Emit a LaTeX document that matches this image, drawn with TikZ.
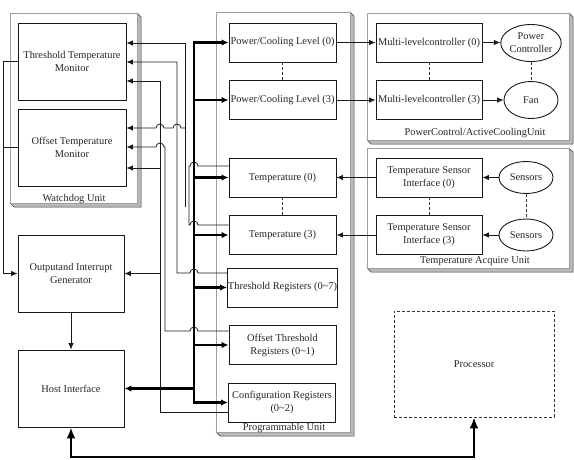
\documentclass[tikz,border=0pt]{standalone}
\usepackage{fontspec}
\setmainfont{Liberation Serif}
\usetikzlibrary{arrows.meta,shapes.geometric}
\newcommand\unitframe[4]{%
  \filldraw[fill=gray!55, draw=gray!50!black, line width=0.5pt]
    (#3,#2) -- ++(4,4) -- (#3+4,#4+4) -- (#1+4,#4+4) -- (#1,#4) -- (#3,#4) -- cycle;
  \draw[gray!75, line width=0.8pt, fill=white] (#1,#2) rectangle (#3,#4);}
\begin{document}
\begin{tikzpicture}[x=1pt,y=-1pt,
  txt/.style={font=\fontsize{10.4}{13}\selectfont, text=black!85},
  box/.style={txt, draw=black!90, line width=0.9pt, fill=white, align=center, inner sep=0.5pt},
  ell/.style={txt, draw=black!90, ellipse, line width=0.9pt, fill=white, align=center, inner sep=0pt, minimum width=54pt, minimum height=37pt},
  wire/.style={line width=0.8pt, black!90},
  ar/.style={wire, -{Latex[length=6.5pt,width=5.5pt]}},
  bus/.style={line width=2.6pt, black},
  busar/.style={bus, -{Latex[length=7pt,width=6.5pt]}},
  dashline/.style={line width=0.8pt, black!80, dash pattern=on 3pt off 2pt},
  bigtip/.style={{Latex[length=11pt,width=9pt]}-{Latex[length=11pt,width=9pt]}}
]
\useasboundingbox (0,0) rectangle (574,459);

% unit frames
\unitframe{10}{13}{137}{203}
\unitframe{216}{12}{350}{432}
\unitframe{367}{13}{569}{140}
\unitframe{367}{148}{569}{268}

\node[txt] (wdl) at (74,199) {Watchdog Unit};
\node[txt] (pul) at (284,428) {Programmable Unit};
\node[txt] (pcl) at (475,133) {PowerControl/ActiveCoolingUnit};
\node[txt] (tal) at (475,261) {Temperature Acquire Unit};

% watchdog and left column
\node[box, minimum width=108pt, minimum height=77pt] (ttm) at (72,61.5) {Threshold Temperature\\Monitor};
\node[box, minimum width=108pt, minimum height=77pt] (otm) at (72,147.5) {Offset Temperature\\Monitor};
\node[box, minimum width=106pt, minimum height=77pt] (oig) at (71,273.5) {Outputand Interrupt\\Generator};
\node[box, minimum width=106pt, minimum height=77pt] (hi) at (71,388.5) {Host Interface};

% programmable unit
\node[box, minimum width=107pt, minimum height=39pt] (pcl0) at (282.5,42.5) {Power/Cooling Level (0)};
\node[box, minimum width=107pt, minimum height=39pt] (pcl3) at (282.5,100) {Power/Cooling Level (3)};
\node[box, minimum width=107pt, minimum height=39pt] (t0) at (282.5,177.5) {Temperature (0)};
\node[box, minimum width=107pt, minimum height=39pt] (t3) at (282.5,235) {Temperature (3)};
\node[box, minimum width=107pt, minimum height=39pt] (thr) at (282.5,287.5) {Threshold Registers (0\textasciitilde7)};
\node[box, minimum width=107pt, minimum height=39pt] (otr) at (282.5,345) {Offset Threshold\\Registers (0\textasciitilde1)};
\node[box, minimum width=107pt, minimum height=39pt] (cfg) at (282,402.5) {Configuration Registers\\(0\textasciitilde2)};

% power control unit
\node[box, minimum width=106pt, minimum height=39pt] (mlc0) at (429,42.5) {Multi-levelcontroller (0)};
\node[box, minimum width=106pt, minimum height=39pt] (mlc3) at (429,100) {Multi-levelcontroller (3)};
\node[ell] (pc) at (531,43) {Power\\Controller};
\node[ell] (fan) at (531,100) {Fan};

% temperature acquire unit
\node[box, minimum width=106pt, minimum height=39pt] (tsi0) at (429,177.5) {Temperature Sensor\\Interface (0)};
\node[box, minimum width=106pt, minimum height=39pt] (tsi3) at (429,235) {Temperature Sensor\\Interface (3)};
\node[ell, minimum height=32pt] (s0) at (526,177.5) {Sensors};
\node[ell, minimum height=32pt] (s3) at (526,235) {Sensors};

% processor
\node[txt, draw=black!80, dash pattern=on 3pt off 2pt, line width=0.8pt, minimum width=160pt, minimum height=106pt] (proc) at (474,364) {Processor};

% dashed links
\draw[dashline] (pcl0) -- (pcl3);
\draw[dashline] (t0) -- (t3);
\draw[dashline] (mlc0) -- (mlc3);
\draw[dashline] (pc) -- (fan);
\draw[dashline] (tsi0) -- (tsi3);
\draw[dashline] (s0) -- (s3);

% right side arrows
\draw[ar] (pcl0) -- (mlc0);
\draw[ar] (pcl3) -- (mlc3);
\draw[ar] (mlc0.east) -- (mlc0.east -| pc.west);
\draw[ar] (mlc3) -- (fan);
\draw[ar] (s0) -- (tsi0);
\draw[ar] (s3) -- (tsi3);
\draw[ar] (tsi0) -- (t0);
\draw[ar] (tsi3) -- (t3);

% bus
\coordinate (bt) at (194,42.5);
\coordinate (bb) at (194,402.5);
\draw[bus, {Latex[length=7pt,width=6.5pt]}-{Latex[length=7pt,width=6.5pt]}] (pcl0.west) -- (bt) -- (bb) -- (cfg.west);
\draw[busar] (pcl3.west -| bt) -- (pcl3.west);
\draw[busar] (t0.west -| bt) -- (t0.west);
\draw[busar] (t3.west -| bt) -- (t3.west);
\draw[busar] (thr.west -| bt) -- (thr.west);
\draw[busar] (otr.west -| bt) -- (otr.west);
\draw[busar] (hi.east -| bt) -- (hi.east);

% host - processor
\coordinate (lowy) at (0,457);
\draw[bus, bigtip] (hi.south) -- (hi.south |- lowy) -| (proc.south);

% left loop to output generator
\coordinate (lx) at (3,0);
\draw[ar] (ttm.west) -- (ttm.west -| lx) -- (oig.west -| lx) -- (oig.west);
\draw[wire] (otm.west) -- (otm.west -| lx);
\draw[ar] (oig) -- (hi);

% temperature net
\draw[ar] (185,207) -- (185,43) -- (ttm.east |- 0,43);
\draw[ar] (185,128) -- (181,128) arc[start angle=0,end angle=-180,radius=4]
  -- (164,128) arc[start angle=0,end angle=-180,radius=4] -- (otm.east |- 0,128);
\draw[wire] (t0.west |- 0,166) -- (198,166) arc[start angle=0,end angle=-180,radius=4]
  -- (189,166) -- (189,225) -- (190,225) arc[start angle=180,end angle=360,radius=4]
  -- (t3.west |- 0,225);

% threshold registers net
\draw[ar] (thr.west |- 0,273) -- (198,273) arc[start angle=0,end angle=-180,radius=4]
  -- (177,273) -- (177,62) -- (ttm.east |- 0,62);

% offset registers net
\draw[ar] (otr.west |- 0,331) -- (198,331) arc[start angle=0,end angle=-180,radius=4]
  -- (165,331) -- (165,147) -- (164,147) arc[start angle=0,end angle=-180,radius=4]
  -- (otm.east |- 0,147);

% configuration net
\draw[ar] (cfg.west |- 0,412) -- (160,412) -- (160,81) -- (ttm.east |- 0,81);
\draw[ar] (160,168) -- (otm.east |- 0,168);
\draw[ar] (160,273.5) -- (oig.east);
\end{tikzpicture}
\end{document}
